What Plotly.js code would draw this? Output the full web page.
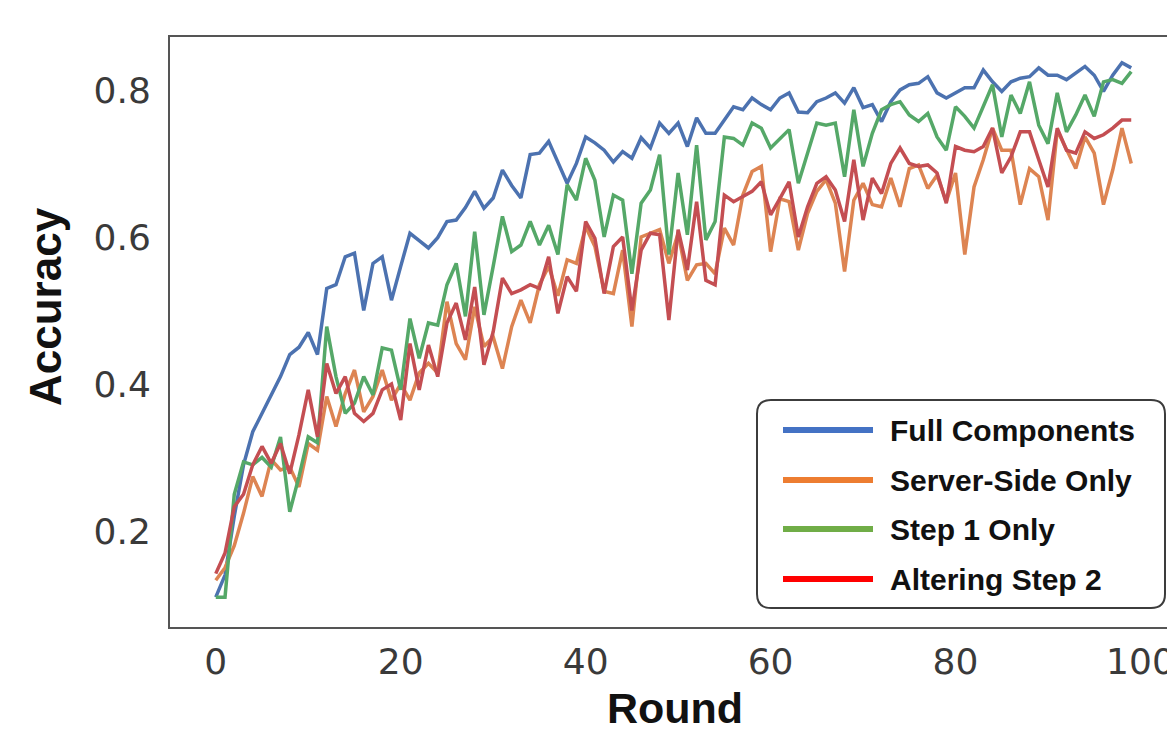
<!DOCTYPE html>
<html>
<head>
<meta charset="utf-8">
<script src="https://cdn.plot.ly/plotly-3.0.1.min.js"></script>
<style>
html,body{margin:0;padding:0;background:#fff;overflow:hidden;}
#wrap{width:1167px;height:731px;overflow:hidden;}
#chart{width:1180px;height:731px;}
</style>
</head>
<body>
<div id="wrap"><div id="chart"></div></div>
<script>
// ---------------- data ----------------
const rounds = Array.from({length: 100}, (_, i) => i);

const seriesNames = ["Full Components", "Server-Side Only", "Step 1 Only", "Altering Step 2"];

const fullComponents = [
0.11,0.14,0.22,0.29,0.335,0.36,0.385,0.41,0.44,0.45,
0.47,0.44,0.53,0.535,0.573,0.578,0.50,0.564,0.573,0.514,
0.56,0.605,0.595,0.585,0.599,0.621,0.623,0.64,0.662,0.639,
0.653,0.691,0.67,0.653,0.712,0.714,0.73,0.70,0.673,0.70,
0.736,0.728,0.718,0.702,0.716,0.707,0.735,0.721,0.755,0.741,
0.755,0.723,0.762,0.741,0.741,0.759,0.777,0.773,0.789,0.78,
0.773,0.789,0.796,0.77,0.769,0.784,0.789,0.796,0.782,0.803,
0.776,0.78,0.757,0.784,0.80,0.807,0.809,0.818,0.796,0.789,
0.796,0.803,0.803,0.827,0.811,0.798,0.811,0.816,0.818,0.83,
0.82,0.82,0.814,0.823,0.832,0.82,0.798,0.82,0.837,0.83];

const serverSideOnly = [
0.133,0.15,0.18,0.224,0.274,0.247,0.297,0.283,0.287,0.26,
0.319,0.31,0.383,0.342,0.387,0.419,0.362,0.383,0.419,0.378,
0.40,0.378,0.415,0.428,0.415,0.512,0.455,0.433,0.505,0.451,
0.464,0.421,0.478,0.514,0.483,0.535,0.56,0.52,0.569,0.564,
0.614,0.587,0.526,0.523,0.582,0.478,0.60,0.605,0.61,0.564,
0.605,0.541,0.562,0.564,0.55,0.612,0.589,0.657,0.689,0.696,
0.58,0.652,0.648,0.582,0.632,0.662,0.678,0.646,0.553,0.65,
0.673,0.644,0.641,0.68,0.641,0.693,0.698,0.666,0.684,0.648,
0.687,0.576,0.668,0.705,0.748,0.718,0.718,0.644,0.693,0.682,
0.623,0.745,0.72,0.693,0.736,0.714,0.644,0.691,0.748,0.70];

const step1Only = [
0.11,0.11,0.25,0.294,0.29,0.30,0.287,0.328,0.226,0.274,
0.328,0.32,0.478,0.41,0.36,0.374,0.41,0.385,0.449,0.446,
0.392,0.489,0.435,0.483,0.48,0.535,0.564,0.492,0.607,0.494,
0.56,0.628,0.58,0.589,0.621,0.589,0.616,0.576,0.671,0.65,
0.707,0.677,0.60,0.657,0.65,0.55,0.646,0.664,0.712,0.576,
0.687,0.603,0.725,0.596,0.621,0.736,0.734,0.725,0.755,0.748,
0.721,0.734,0.746,0.673,0.714,0.755,0.752,0.755,0.682,0.773,
0.696,0.741,0.773,0.78,0.784,0.766,0.757,0.768,0.736,0.718,
0.777,0.764,0.748,0.777,0.807,0.736,0.793,0.768,0.811,0.752,
0.727,0.796,0.743,0.766,0.793,0.764,0.811,0.814,0.809,0.825];

const alteringStep2 = [
0.142,0.17,0.233,0.25,0.29,0.315,0.292,0.319,0.278,0.331,
0.392,0.328,0.428,0.387,0.41,0.36,0.349,0.36,0.392,0.40,
0.351,0.455,0.392,0.453,0.41,0.483,0.51,0.46,0.532,0.426,
0.471,0.544,0.523,0.528,0.535,0.53,0.573,0.496,0.546,0.526,
0.621,0.598,0.523,0.587,0.60,0.50,0.582,0.605,0.603,0.487,
0.61,0.555,0.648,0.541,0.535,0.657,0.648,0.655,0.662,0.675,
0.63,0.652,0.675,0.60,0.641,0.673,0.682,0.664,0.621,0.705,
0.623,0.68,0.659,0.70,0.721,0.70,0.696,0.698,0.687,0.646,
0.723,0.718,0.716,0.723,0.748,0.687,0.709,0.743,0.743,0.705,
0.668,0.748,0.718,0.714,0.743,0.734,0.739,0.748,0.759,0.759];

const yTickVals = [0.2, 0.4, 0.6, 0.8];
const yTickText = ["0.2", "0.4", "0.6", "0.8"];
const xTickVals = [0, 20, 40, 60, 80, 100];
const xTickText = ["0", "20", "40", "60", "80", "100"];

// ---------------- styling ----------------
const lineColors = ["#4c72b0", "#dd8452", "#55a868", "#c44e52"];
const legendColors = ["#4472c4", "#ed7d31", "#70ad47", "#ff0000"];
const allSeries = [fullComponents, serverSideOnly, step1Only, alteringStep2];

// plot-area pixel box (inside a 1180 x 731 figure)
const L = 170, R = 1177, T = 37, B = 627;
const px2x = p => (p - L) / (R - L);
const px2y = p => (B - p) / (B - T);

const traces = allSeries.map((ys, i) => ({
  type: "scatter",
  mode: "lines",
  x: rounds,
  y: ys,
  name: seriesNames[i],
  line: {color: lineColors[i], width: 3.5},
  showlegend: false,
  hoverinfo: "skip"
}));

// custom legend (rounded box, long line samples)
const bx0 = 757, bx1 = 1165, by0 = 400, by1 = 608, rad = 14;
const P = (x, y) => px2x(x).toFixed(5) + "," + px2y(y).toFixed(5);
const boxPath =
  "M" + P(bx0 + rad, by0) + " L" + P(bx1 - rad, by0) + " Q" + P(bx1, by0) + " " + P(bx1, by0 + rad) +
  " L" + P(bx1, by1 - rad) + " Q" + P(bx1, by1) + " " + P(bx1 - rad, by1) +
  " L" + P(bx0 + rad, by1) + " Q" + P(bx0, by1) + " " + P(bx0, by1 - rad) +
  " L" + P(bx0, by0 + rad) + " Q" + P(bx0, by0) + " " + P(bx0 + rad, by0) + " Z";

const shapes = [{
  type: "path", xref: "paper", yref: "paper", path: boxPath,
  fillcolor: "#ffffff", line: {color: "#3c3c3c", width: 2}, layer: "above"
}];
const rowY = [430, 480, 529, 579];
const annotations = [];
seriesNames.forEach((n, i) => {
  shapes.push({
    type: "line", xref: "paper", yref: "paper",
    x0: px2x(783), x1: px2x(873), y0: px2y(rowY[i]), y1: px2y(rowY[i]),
    line: {color: legendColors[i], width: 6}, layer: "above"
  });
  annotations.push({
    xref: "paper", yref: "paper", x: px2x(888), y: px2y(rowY[i]),
    xanchor: "left", yanchor: "middle", showarrow: false,
    text: "<b>" + n + "</b>",
    font: {family: "Liberation Sans, Arial, sans-serif", size: 30, color: "#111111"}
  });
});

const titleFont = {family: "Liberation Sans, Arial, sans-serif", size: 43, color: "#111111"};

// axis titles
annotations.push({
  xref: "paper", yref: "paper", x: px2x(45), y: px2y(307),
  xanchor: "center", yanchor: "middle", showarrow: false, textangle: -90,
  text: "<b>Accuracy</b>", font: {family: titleFont.family, size: 44, color: titleFont.color}
});
annotations.push({
  xref: "paper", yref: "paper", x: px2x(675), y: px2y(708),
  xanchor: "center", yanchor: "middle", showarrow: false,
  text: "<b>Round</b>", font: titleFont
});

const tickFont = {family: "DejaVu Sans, sans-serif", size: 36, color: "#3a3a3a"};

const layout = {
  width: 1180, height: 731,
  margin: {l: L, r: 1180 - R, t: T, b: 731 - B, pad: 0},
  paper_bgcolor: "#ffffff", plot_bgcolor: "#ffffff",
  showlegend: false,
  xaxis: {
    range: [-4.95, 103.95], tickvals: xTickVals, ticktext: xTickText,
    showgrid: false, zeroline: false, ticks: "", showline: true, mirror: true,
    linecolor: "#555555", linewidth: 2, tickfont: tickFont, ticklabelstandoff: 2
  },
  yaxis: {
    range: [0.0694, 0.872], tickvals: yTickVals, ticktext: yTickText,
    showgrid: false, zeroline: false, ticks: "", showline: true, mirror: true,
    linecolor: "#555555", linewidth: 2, tickfont: tickFont, ticklabelstandoff: 10
  },
  shapes: shapes,
  annotations: annotations
};

Plotly.newPlot("chart", traces, layout, {displayModeBar: false, staticPlot: true});
</script>
</body>
</html>
